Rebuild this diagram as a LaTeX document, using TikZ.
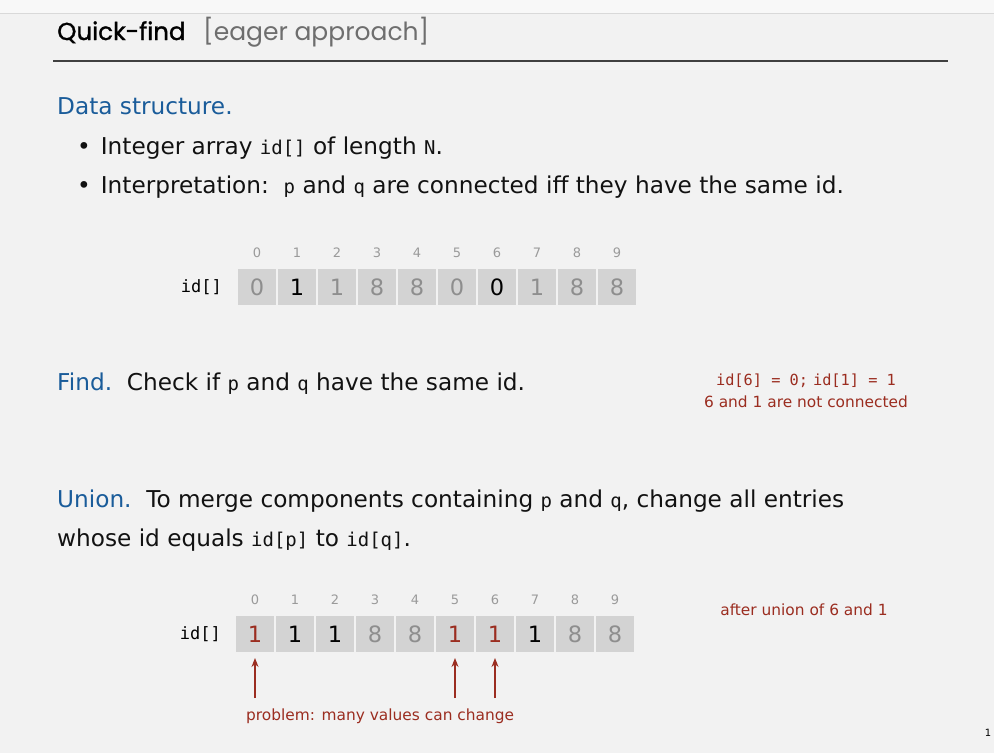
\documentclass[tikz,border=0pt]{standalone}
\usepackage{fontspec}
\setmainfont{DejaVu Sans}
\newfontfamily\titlefont{Poppins}
\newfontfamily\titlebold[FakeBold=1.2]{Poppins}
\newfontfamily\monofont{DejaVu Sans Mono}
\usetikzlibrary{arrows.meta}
\definecolor{bg}{HTML}{F2F2F2}
\definecolor{topbg}{HTML}{F8F8F8}
\definecolor{hdblue}{HTML}{1A5C9A}
\definecolor{dred}{HTML}{9B2D20}
\definecolor{cellgray}{HTML}{D3D3D3}
\definecolor{valgray}{HTML}{8E8E8E}
\definecolor{idxgray}{HTML}{9A9A9A}
\definecolor{ttlgray}{HTML}{6E6E6E}
\newcommand{\cd}[1]{{\monofont\fontsize{19}{20}\selectfont #1}}
\newcommand{\cdsmall}[1]{{\monofont\fontsize{15.3}{18}\selectfont #1}}
\tikzset{
  body/.style={font=\fontsize{23.2}{26}\selectfont, anchor=base west, inner sep=0, text=black!93},
  note/.style={font=\fontsize{15.4}{18}\selectfont, anchor=base, inner sep=0, text=dred},
  cellbox/.style={fill=cellgray, draw=bg, line width=1.5pt, minimum width=40pt, minimum height=38pt, inner sep=0, font=\fontsize{22.5}{24}\selectfont},
  idxlab/.style={font=\fontsize{13}{14}\selectfont, text=idxgray, inner sep=0, anchor=base},
  upar/.style={draw=dred, line width=1.3pt, -{Stealth[length=9pt,width=7pt]}}
}
\begin{document}
\begin{tikzpicture}[x=1pt,y=-1pt]
\useasboundingbox (0,0) rectangle (994,753);
\fill[bg] (0,0) rectangle (994,753);
\fill[topbg] (0,0) rectangle (994,13);
\draw[black!15, line width=0.8pt] (0,13) -- (994,13);
% title
\node[anchor=base west, inner sep=0, font=\titlebold\fontsize{24.5}{30}\selectfont] (title) at (57,40) {Quick-find};
\node[anchor=base west, inner sep=0, font=\titlefont\fontsize{25}{30}\selectfont, text=ttlgray] (sub) at (203,40) {[eager approach]};
\draw[black!75, line width=1.2pt] (53,61) -- (948,61);
% data structure
\node[body, text=hdblue] (ds) at (57,114) {Data structure.};
\node[body] (b1) at (77,154) {\textbullet\hspace{10pt}Integer array \cd{id[]} of length \cd{N}.};
\node[body] (b2) at (77,193) {\textbullet\hspace{10pt}Interpretation:\ \ \cd{p} and \cd{q} are connected iff they have the same id.};
% array 1
\node[anchor=east, inner sep=0, font=\monofont\fontsize{17}{18}\selectfont] (lab1) at (222,287) {id[]};
\foreach \v/\c [count=\i from 0] in {0/valgray,1/black,1/valgray,8/valgray,8/valgray,0/valgray,0/black,1/valgray,8/valgray,8/valgray}{
  \node[cellbox, text=\c] (a\i) at (257+40*\i,287) {\v};
  \node[idxlab] (ia\i) at (257+40*\i,257) {\i};
}
% find
\node[body] (find) at (57,390) {\textcolor{hdblue}{Find.}\ \ Check if \cd{p} and \cd{q} have the same id.};
\node[note] (n1) at (806,385) {\cdsmall{id[6] = 0;} \cdsmall{id[1] = 1}};
\node[note] (n2) at (806,407) {6 and 1 are not connected};
% union
\node[body] (u1) at (57,507) {\textcolor{hdblue}{Union.}\ \ To merge components containing \cd{p} and \cd{q}, change all entries};
\node[body] (u2) at (57,546) {whose id equals \cd{id[p]} to \cd{id[q]}.};
% array 2
\node[anchor=east, inner sep=0, font=\monofont\fontsize{17}{18}\selectfont] (lab2) at (221,634) {id[]};
\foreach \v/\c [count=\i from 0] in {1/dred,1/black,1/black,8/valgray,8/valgray,1/dred,1/dred,1/black,8/valgray,8/valgray}{
  \node[cellbox, text=\c] (c\i) at (255+40*\i,634) {\v};
  \node[idxlab] (ic\i) at (255+40*\i,604) {\i};
}
\node[note] (n3) at (804,615) {after union of 6 and 1};
\coordinate (s0) at (255,698);
\coordinate (s5) at (455,698);
\coordinate (s6) at (495,698);
\draw[upar] (s0) -- (c0.south |- 0,658);
\draw[upar] (s5) -- (c5.south |- 0,658);
\draw[upar] (s6) -- (c6.south |- 0,658);
\node[note, anchor=base west] (prob) at (246,720) {problem: many values can change};
\node[inner sep=0, font=\fontsize{10}{11}\selectfont, anchor=base] (pg) at (988,736) {1};
\end{tikzpicture}
\end{document}
